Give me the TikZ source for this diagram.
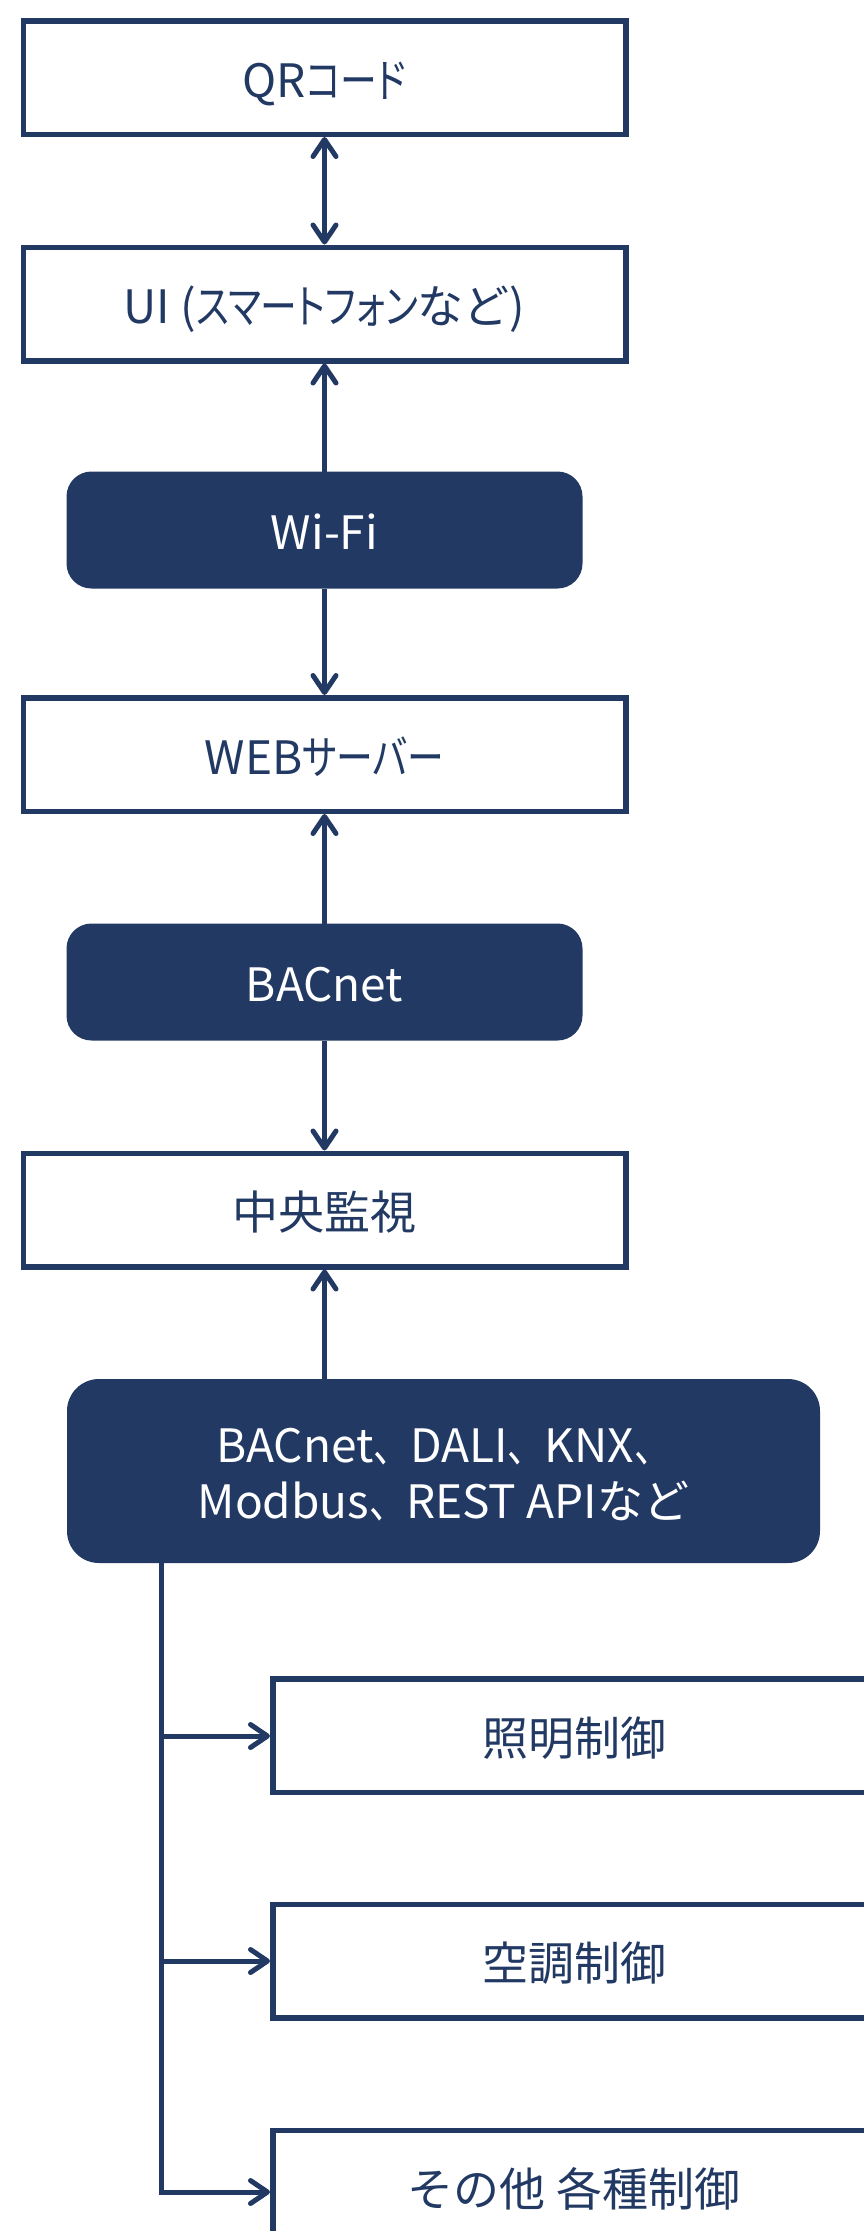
\documentclass[tikz,border=0pt]{standalone}
\usepackage{fontspec}
\setmainfont{Noto Sans CJK JP}
\newfontfamily\kana{Noto Sans CJK JP}[RawFeature={+palt}, FakeStretch=0.8]
\newfontfamily\kanb{Noto Sans CJK JP}[FakeStretch=0.8]
\usetikzlibrary{arrows.meta}
\definecolor{navy}{RGB}{33,57,99}
\begin{document}
\begin{tikzpicture}[x=1pt,y=-1pt,
  every node/.style={font=\fontsize{46pt}{56pt}\selectfont, inner sep=0pt},
  wbox/.style={draw=navy, line width=5.5pt, fill=white, text=navy, minimum width=602.5pt, minimum height=113.5pt, text height=39pt, text depth=0pt},
  dbox/.style={fill=navy, text=white, rounded corners=25pt, minimum width=516pt, minimum height=117pt, outer sep=0pt, text height=39pt, text depth=0pt},
  conn/.style={draw=navy, line width=5pt},
  arr/.style={conn, -{Straight Barb[length=17pt,width=23pt,round]}},
  darr/.style={conn, {Straight Barb[length=17pt,width=23pt,round]}-{Straight Barb[length=17pt,width=23pt,round]}},
]
\useasboundingbox (0,0) rectangle (863,2231);
\node[wbox] (qr) at (324.5,77.5) {QR{\kana コード}};
\node[wbox] (ui) at (324.5,304) {UI ({\kana スマートフォン}など)};
\node[dbox] (wifi) at (324.5,530) {Wi-Fi};
\node[wbox] (web) at (324.5,754.5) {WEB{\kana サーバー}};
\node[dbox] (bac) at (324.5,982) {BACnet};
\node[wbox] (cen) at (324.5,1210) {中央監視};
\node[dbox, minimum width=753pt, minimum height=184pt, rounded corners=32pt] (proto) at (443.5,1471) {};
\node[text=white, anchor=base] (p1) at (443.5,1462) {BACnet{\kanb 、}DALI{\kanb 、}KNX{\kanb 、}};
\node[text=white, anchor=base] (p2) at (443.5,1518) {Modbus{\kanb 、}REST APIなど};
\node[wbox] (light) at (574,1735.5) {照明制御};
\node[wbox] (hvac) at (574,1961) {空調制御};
\node[wbox] (other) at (574,2187) {その他 各種制御};

\draw[darr] (qr.south) -- (ui.north);
\draw[arr] (wifi.north) -- (ui.south);
\draw[arr] (wifi.south) -- (web.north);
\draw[arr] (bac.north) -- (web.south);
\draw[arr] (bac.south) -- (cen.north);
\draw[arr] (cen.south |- proto.north) -- (cen.south);

\coordinate (b1) at (161,1736);
\coordinate (b2) at (161,1961);
\coordinate (b3) at (161,2192);
\draw[arr] (proto.south -| b3) -- (b3) -- (b3 -| other.west);
\draw[arr] (b1) -- (b1 -| light.west);
\draw[arr] (b2) -- (b2 -| hvac.west);
\end{tikzpicture}
\end{document}
